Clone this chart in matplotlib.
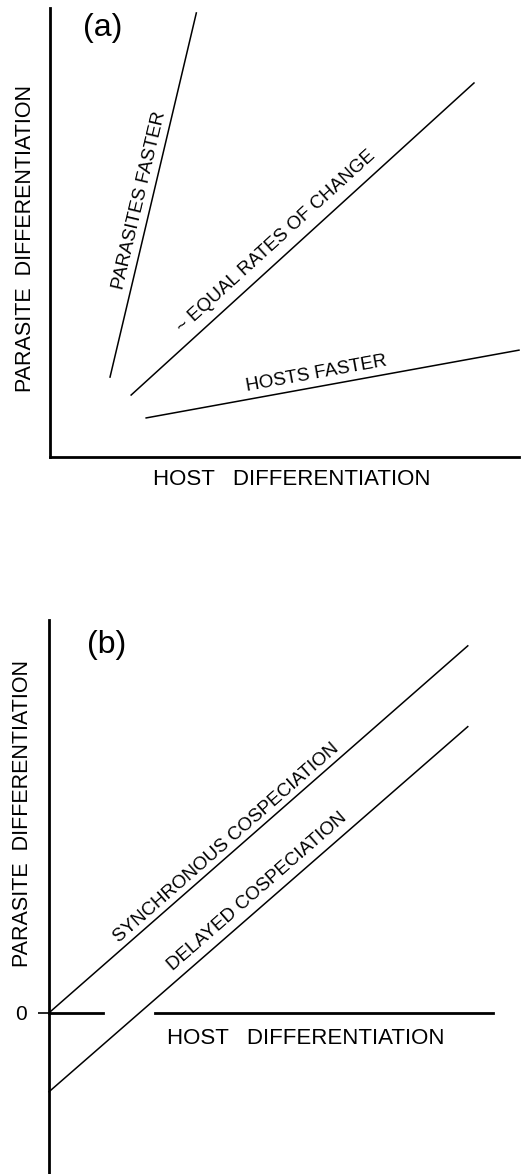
import numpy as np
import matplotlib.pyplot as plt

plt.rcParams['font.family'] = ['Liberation Sans', 'DejaVu Sans']

# panel (a): schematic lines (x0, y0, x1, y1) in arbitrary units
a_names = ['PARASITES FASTER', '~ EQUAL RATES OF CHANGE', 'HOSTS FASTER']
a_x = [[1.28, 3.12], [1.73, 9.04], [2.05, 10.0]]
a_y = [[1.78, 9.89], [1.38, 8.33], [0.87, 2.38]]
a_lab_x = [1.92, 4.83, 5.68]
a_lab_y = [5.72, 4.79, 1.85]

# panel (b)
b_names = ['SYNCHRONOUS COSPECIATION', 'DELAYED COSPECIATION']
b_x = [[0.0, 8.91], [0.0, 8.91]]
b_y = [[0.0, 7.81], [-1.68, 6.09]]
b_lab_x = [3.77, 4.43]
b_lab_y = [3.62, 2.57]
b_axis_pieces = [[0.0, 1.15], [2.26, 9.45]]

W, H = 525, 1174
def frac(l, t, r, b):
    return [l / W, 1 - b / H, (r - l) / W, (b - t) / H]

fig = plt.figure(figsize=(W / 100, H / 100), dpi=100)

# ---- (a)
ax1 = fig.add_axes(frac(50, 8, 519, 457))
ax1.set_xlim(0, 10)
ax1.set_ylim(0, 10)
for s in ['top', 'right']:
    ax1.spines[s].set_visible(False)
for s in ['left', 'bottom']:
    ax1.spines[s].set_linewidth(2.0)
ax1.set_xticks([])
ax1.set_yticks([])
for xs, ys in zip(a_x, a_y):
    ax1.plot(xs, ys, color='black', lw=1.1, clip_on=False)
for name, xs, ys, lx, ly in zip(a_names, a_x, a_y, a_lab_x, a_lab_y):
    ang = np.degrees(np.arctan2(ys[1] - ys[0], xs[1] - xs[0]))
    ax1.text(lx, ly, name, rotation=ang, transform_rotates_text=True,
             rotation_mode='anchor', ha='center', va='center', fontsize=13.5)
ax1.text(0.07, 0.955, '(a)', transform=ax1.transAxes, fontsize=23, ha='left', va='center')
ax1.set_ylabel('PARASITE  DIFFERENTIATION', fontsize=15.5, va='center')
ax1.yaxis.set_label_coords(-0.053, 0.486)
ax1.set_xlabel('HOST   DIFFERENTIATION', fontsize=16, va='center')
ax1.xaxis.set_label_coords(0.516, -0.051)

# ---- (b)
ax2 = fig.add_axes(frac(49, 620, 519, 1174))
ax2.set_xlim(0, 10)
ax2.set_ylim(-3.43, 8.36)
for s in ['top', 'right', 'bottom']:
    ax2.spines[s].set_visible(False)
ax2.spines['left'].set_linewidth(2.0)
ax2.set_xticks([])
ax2.set_yticks([0])
ax2.set_yticklabels(['0'], fontsize=15)
ax2.tick_params(axis='y', length=8, width=1.2, pad=8)
for seg in b_axis_pieces:
    ax2.plot(seg, [0, 0], color='black', lw=2.0, clip_on=False)
for xs, ys in zip(b_x, b_y):
    ax2.plot(xs, ys, color='black', lw=1.1, clip_on=False)
for name, xs, ys, lx, ly in zip(b_names, b_x, b_y, b_lab_x, b_lab_y):
    ang = np.degrees(np.arctan2(ys[1] - ys[0], xs[1] - xs[0]))
    ax2.text(lx, ly, name, rotation=ang, transform_rotates_text=True,
             rotation_mode='anchor', ha='center', va='center', fontsize=13.5)
ax2.text(0.08, 0.955, '(b)', transform=ax2.transAxes, fontsize=23, ha='left', va='center')
ax2.set_ylabel('PARASITE  DIFFERENTIATION', fontsize=15.5, va='center')
ax2.yaxis.set_label_coords(-0.057, 0.65)
ax2.set_xlabel('HOST   DIFFERENTIATION', fontsize=16, va='center')
ax2.xaxis.set_label_coords(0.547, 0.245)

fig.savefig('out.png', dpi=100)
